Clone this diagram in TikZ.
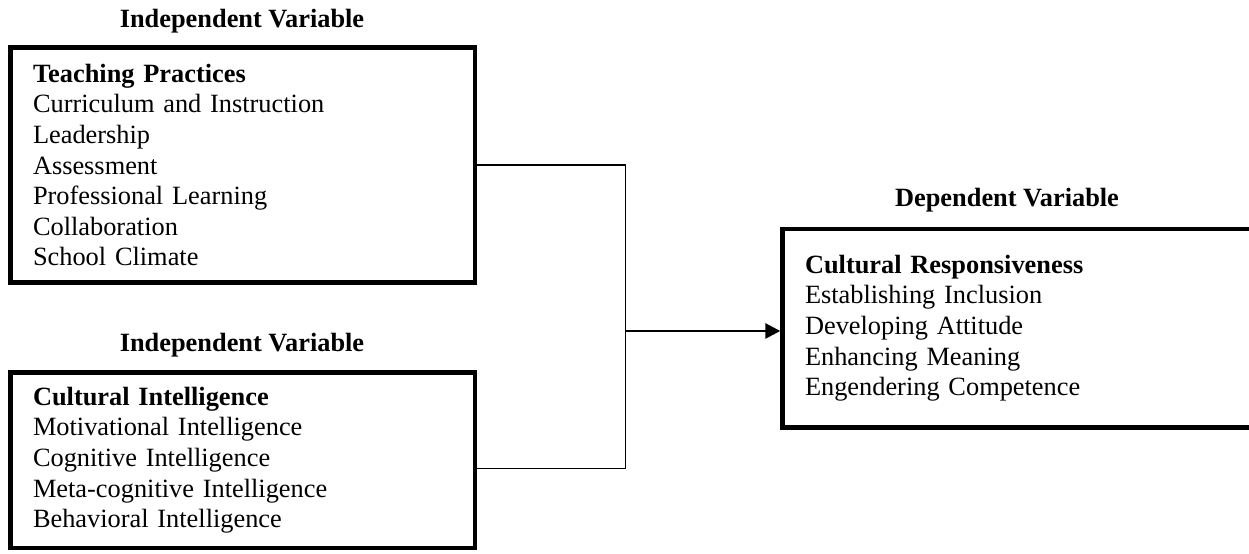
\documentclass[tikz,border=0pt]{standalone}
\usepackage{fontspec}
\setmainfont{Liberation Serif}
\usepackage{tikz}
\usetikzlibrary{arrows.meta, positioning}

\begin{document}
\begin{tikzpicture}[
    varbox/.style={rectangle, draw, line width=2.5pt, align=left, inner xsep=0.45cm, inner ysep=0pt, text width=8.39cm, minimum width=9.29cm, font=\fontsize{15}{17.4}\selectfont},
    title/.style={anchor=base, font=\fontsize{15}{17.4}\selectfont\bfseries},
    link/.style={line width=0.8pt},
    arrow/.style={-{Triangle[length=0.3cm, width=0.3cm]}, line width=1.5pt}
]
    \useasboundingbox (0,0) rectangle (24.98,11.06);

    % Independent variables
    \node[title] (iv1) at (4.84,10.5) {Independent Variable};
    \node[varbox, minimum height=4.7cm] (tp) at (4.855,7.76) {\textbf{Teaching Practices}\\
        Curriculum and Instruction\\ Leadership\\ Assessment\\
        Professional Learning\\ Collaboration\\ School Climate};

    \node[title] (iv2) at (4.84,4.02) {Independent Variable};
    \node[varbox, minimum height=3.51cm] (ci) at (4.855,1.855) {\textbf{Cultural Intelligence}\\
        Motivational Intelligence\\ Cognitive Intelligence\\
        Meta-cognitive Intelligence\\ Behavioral Intelligence};

    % Dependent variable
    \node[title] (dv) at (20.14,6.92) {Dependent Variable};
    \node[varbox, text width=8.55cm, minimum width=9.45cm, minimum height=3.97cm] (cr) at (20.375,4.495) {\textbf{Cultural Responsiveness}\\
        Establishing Inclusion\\ Developing Attitude\\
        Enhancing Meaning\\ Engendering Competence};

    % Connectors
    \coordinate (join) at (12.51,4.44);
    \draw[link] (tp.east) -| (join);
    \draw[link] ([yshift=-0.16cm]ci.east) -| (join);
    \draw[arrow] (join) -- (join -| cr.west);
\end{tikzpicture}
\end{document}
